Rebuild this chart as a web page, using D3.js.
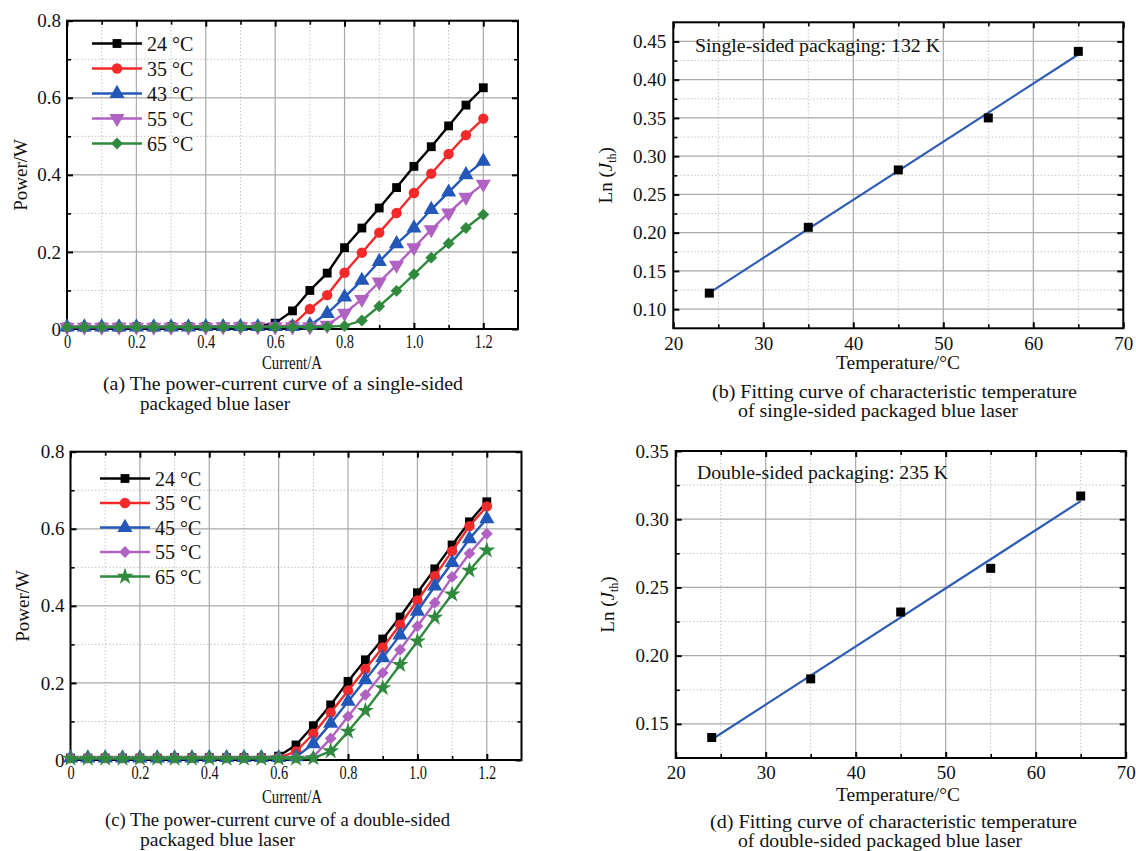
<!DOCTYPE html>
<html>
<head>
<meta charset="utf-8">
<script src="https://cdn.jsdelivr.net/npm/d3@7"></script>
<style>
  body { margin: 0; background: #fff; }
  svg { display: block; }
</style>
</head>
<body>
<svg id="chart" width="1136" height="851"></svg>
<script>
// power-current curves + ln(Jth) fits, single / double sided packaging

const current = [0, 0.05, 0.1, 0.15, 0.2, 0.25, 0.3, 0.35, 0.4, 0.45, 0.5, 0.55,
  0.6, 0.65, 0.7, 0.75, 0.8, 0.85, 0.9, 0.95, 1.0, 1.05, 1.1, 1.15, 1.2];

// (a) single-sided
const singleLabels = ['24 °C', '35 °C', '43 °C', '55 °C', '65 °C'];
const single24 = [0.005, 0.005, 0.005, 0.005, 0.006, 0.005, 0.006, 0.006, 0.006, 0.006, 0.007, 0.007,
  0.015, 0.047, 0.100, 0.145, 0.211, 0.262, 0.314, 0.367, 0.422, 0.473, 0.527, 0.581, 0.626];
const single35 = [0.005, 0.005, 0.005, 0.005, 0.005, 0.005, 0.005, 0.006, 0.006, 0.006, 0.006, 0.006,
  0.006, 0.010, 0.052, 0.088, 0.146, 0.198, 0.250, 0.301, 0.353, 0.403, 0.454, 0.503, 0.546];
const single43 = [0.005, 0.005, 0.005, 0.005, 0.005, 0.005, 0.005, 0.005, 0.006, 0.006, 0.006, 0.006,
  0.006, 0.006, 0.010, 0.040, 0.083, 0.126, 0.175, 0.221, 0.262, 0.310, 0.355, 0.400, 0.435];
const single55 = [0.005, 0.005, 0.005, 0.005, 0.005, 0.005, 0.005, 0.005, 0.005, 0.006, 0.006, 0.006,
  0.006, 0.006, 0.006, 0.010, 0.041, 0.077, 0.122, 0.166, 0.211, 0.258, 0.301, 0.342, 0.376];
const single65 = [0.005, 0.005, 0.005, 0.005, 0.005, 0.005, 0.005, 0.005, 0.005, 0.005, 0.005, 0.005,
  0.005, 0.005, 0.005, 0.006, 0.008, 0.022, 0.059, 0.099, 0.142, 0.185, 0.222, 0.262, 0.297];

// (c) double-sided
const doubleLabels = ['24 °C', '35 °C', '45 °C', '55 °C', '65 °C'];
const double24 = [0.005, 0.005, 0.005, 0.005, 0.005, 0.005, 0.006, 0.006, 0.006, 0.006, 0.006, 0.006,
  0.010, 0.039, 0.089, 0.143, 0.204, 0.260, 0.314, 0.371, 0.434, 0.496, 0.558, 0.618, 0.670];
const double35 = [0.005, 0.005, 0.005, 0.005, 0.005, 0.005, 0.005, 0.006, 0.006, 0.006, 0.006, 0.006,
  0.006, 0.022, 0.068, 0.123, 0.180, 0.236, 0.292, 0.351, 0.414, 0.477, 0.542, 0.607, 0.658];
const double45 = [0.005, 0.005, 0.005, 0.005, 0.005, 0.005, 0.005, 0.005, 0.006, 0.006, 0.006, 0.006,
  0.006, 0.008, 0.042, 0.095, 0.152, 0.208, 0.265, 0.324, 0.386, 0.451, 0.512, 0.574, 0.626];
const double55 = [0.006, 0.006, 0.006, 0.006, 0.006, 0.006, 0.006, 0.006, 0.006, 0.006, 0.006, 0.006,
  0.006, 0.006, 0.008, 0.056, 0.113, 0.169, 0.226, 0.286, 0.347, 0.408, 0.475, 0.536, 0.587];
const double65 = [0.004, 0.004, 0.004, 0.004, 0.004, 0.004, 0.004, 0.004, 0.004, 0.004, 0.004, 0.004,
  0.004, 0.004, 0.005, 0.023, 0.074, 0.128, 0.187, 0.247, 0.308, 0.370, 0.430, 0.492, 0.544];

// (b) / (d) ln(Jth) vs temperature
const temps = [24, 35, 45, 55, 65];
const lnSingle = [0.121, 0.207, 0.282, 0.350, 0.437];
const lnDouble = [0.140, 0.183, 0.232, 0.264, 0.317];

// ticks
const powerXMajor = [0, 0.2, 0.4, 0.6, 0.8, 1.0, 1.2];
const powerXMinor = [0.1, 0.3, 0.5, 0.7, 0.9, 1.1];
const powerYMajor = [0, 0.2, 0.4, 0.6, 0.8];
const powerYMinor = [0.1, 0.3, 0.5, 0.7];
const tempXMajor = [20, 30, 40, 50, 60, 70];
const tempXMinor = [25, 35, 45, 55, 65];
const lnYMajorB = [0.10, 0.15, 0.20, 0.25, 0.30, 0.35, 0.40, 0.45];
const lnYMinorB = [0.125, 0.175, 0.225, 0.275, 0.325, 0.375, 0.425];
const lnYMajorD = [0.15, 0.20, 0.25, 0.30, 0.35];
const lnYMinorD = [0.175, 0.225, 0.275, 0.325];

const COLORS = ['#000000', '#f42a2a', '#2458b8', '#b062c2', '#2f8a3e'];
const FIT_COLOR = '#2d5cb4';
const FONT = "'Liberation Serif','Times New Roman',serif";

const svg = d3.select('#chart');
svg.append('rect').attr('width', 1136).attr('height', 851).attr('fill', '#fff');

function markerPath(kind, size) {
  if (kind === 'circle') return { d: d3.symbol(d3.symbolCircle, size)(), rot: 0 };
  if (kind === 'triangle') return { d: d3.symbol(d3.symbolTriangle, size)(), rot: 0 };
  if (kind === 'triangleDown') return { d: d3.symbol(d3.symbolTriangle, size)(), rot: 180 };
  if (kind === 'diamond') return { d: d3.symbol(d3.symbolSquare, size)(), rot: 45 };
  if (kind === 'star') return { d: d3.symbol(d3.symbolStar, size)(), rot: 0 };
  return { d: d3.symbol(d3.symbolSquare, size)(), rot: 0 };
}

function drawFrame(g, x, y, xMaj, xMin, yMaj, yMin, xFmt, yFmt, opt) {
  const [x0, x1] = x.range();
  const [y0, y1] = y.range(); // y0 bottom, y1 top

  // grid
  const grid = g.append('g');
  grid.selectAll('.gmx').data(xMin).join('line')
    .attr('x1', d => x(d)).attr('x2', d => x(d)).attr('y1', y0).attr('y2', y1)
    .attr('stroke', '#c4c4c4').attr('stroke-width', 1).attr('stroke-dasharray', '1.5,2');
  grid.selectAll('.gmy').data(yMin).join('line')
    .attr('y1', d => y(d)).attr('y2', d => y(d)).attr('x1', x0).attr('x2', x1)
    .attr('stroke', '#c4c4c4').attr('stroke-width', 1).attr('stroke-dasharray', '1.5,2');
  grid.selectAll('.gMx').data(xMaj).join('line')
    .attr('x1', d => x(d)).attr('x2', d => x(d)).attr('y1', y0).attr('y2', y1)
    .attr('stroke', '#a9a9a9').attr('stroke-width', 1.2);
  grid.selectAll('.gMy').data(yMaj).join('line')
    .attr('y1', d => y(d)).attr('y2', d => y(d)).attr('x1', x0).attr('x2', x1)
    .attr('stroke', '#a9a9a9').attr('stroke-width', 1.2);

  // inward ticks on all four sides
  const ticks = g.append('g').attr('class', 'ticks');
  const sides = [
    [d3.axisBottom(x), `translate(0,${y0})`, xMaj, xMin],
    [d3.axisTop(x), `translate(0,${y1})`, xMaj, xMin],
    [d3.axisLeft(y), `translate(${x0},0)`, yMaj, yMin],
    [d3.axisRight(y), `translate(${x1},0)`, yMaj, yMin]
  ];
  sides.forEach(([ax, tr, maj, min]) => {
    ticks.append('g').attr('transform', tr)
      .call(ax.tickValues(maj).tickSize(-6).tickFormat(''))
      .call(s => s.select('.domain').remove())
      .call(s => s.selectAll('line').attr('stroke-width', 2));
    ticks.append('g').attr('transform', tr)
      .call(ax.tickValues(min).tickSize(-4).tickFormat(''))
      .call(s => s.select('.domain').remove())
      .call(s => s.selectAll('line').attr('stroke-width', 1.6));
  });

  g.append('rect')
    .attr('x', x0).attr('y', y1).attr('width', x1 - x0).attr('height', y0 - y1)
    .attr('fill', 'none').attr('stroke', '#000').attr('stroke-width', 2);

  // tick labels
  g.append('g').attr('transform', `translate(0,${y0})`)
    .call(d3.axisBottom(x).tickValues(xMaj).tickSize(0).tickPadding(opt.xPad).tickFormat(xFmt))
    .call(s => s.select('.domain').remove())
    .call(s => s.selectAll('text')
      .attr('font-family', FONT).attr('font-size', opt.xSize).attr('fill', '#111')
      .attr('transform', `scale(${opt.xSquash},1)`));
  g.append('g').attr('transform', `translate(${x0},0)`)
    .call(d3.axisLeft(y).tickValues(yMaj).tickSize(0).tickPadding(opt.yPad).tickFormat(yFmt))
    .call(s => s.select('.domain').remove())
    .call(s => s.selectAll('text')
      .attr('font-family', FONT).attr('font-size', 19).attr('fill', '#111'));
}

function addText(g, str, x, y, size, len, anchor) {
  const t = g.append('text').attr('x', x).attr('y', y)
    .attr('font-family', FONT).attr('font-size', size).attr('fill', '#111')
    .attr('text-anchor', anchor || 'start').text(str);
  if (len) t.attr('textLength', len).attr('lengthAdjust', 'spacingAndGlyphs');
  return t;
}

const powerFmt = d => d === 0 ? '0' : d3.format('.1f')(d);

function drawPower(cfg) {
  const g = svg.append('g');
  const x = d3.scaleLinear().domain([0, 1.3]).range([cfg.left, cfg.right]);
  const y = d3.scaleLinear().domain([0, 0.8]).range([cfg.bottom, cfg.top]);

  drawFrame(g, x, y, powerXMajor, powerXMinor, powerYMajor, powerYMinor, powerFmt, powerFmt,
    { xPad: 6, yPad: 6, xSize: 18, xSquash: 0.8 });

  const line = d3.line().x((d, i) => x(current[i])).y(d => y(d));
  cfg.series.forEach((vals, si) => {
    g.append('path').datum(vals).attr('d', line)
      .attr('fill', 'none').attr('stroke', COLORS[si]).attr('stroke-width', 2.4);
    const m = markerPath(cfg.markers[si], cfg.sizes[si]);
    g.append('g').selectAll('path').data(vals).join('path')
      .attr('d', m.d)
      .attr('transform', (d, i) => `translate(${x(current[i])},${y(d)}) rotate(${m.rot})`)
      .attr('fill', COLORS[si]);
  });

  // legend
  const lg = g.append('g');
  cfg.labels.forEach((lab, i) => {
    const yy = cfg.legY + i * cfg.legStep;
    lg.append('line').attr('x1', cfg.legX).attr('x2', cfg.legX + 50)
      .attr('y1', yy).attr('y2', yy).attr('stroke', COLORS[i]).attr('stroke-width', 2.6);
    const m = markerPath(cfg.markers[i], cfg.sizes[i]);
    lg.append('path').attr('d', m.d)
      .attr('transform', `translate(${cfg.legX + 25},${yy}) rotate(${m.rot})`)
      .attr('fill', COLORS[i]);
    addText(lg, lab, cfg.legX + 55, yy + 7, 20);
  });

  addText(g, 'Power/W', 0, 0, 19, null, 'middle')
    .attr('transform', `translate(${cfg.yLabX},${(cfg.top + cfg.bottom) / 2}) rotate(-90)`)
    .attr('dy', '0.35em');
  addText(g, 'Current/A', 292, cfg.titleY, 18, 60, 'middle');
  addText(g, cfg.cap1, cfg.capX1, cfg.capY1, 19, cfg.capW1);
  addText(g, 'packaged blue laser', 140, cfg.capY1 + 20, 19, cfg.capW2);
}

function drawFit(cfg) {
  const g = svg.append('g');
  const x = d3.scaleLinear().domain([20, 70]).range([cfg.left, cfg.right]);
  const y = d3.scaleLinear().domain(cfg.yDomain).range([cfg.bottom, cfg.top]);

  drawFrame(g, x, y, tempXMajor, tempXMinor, cfg.yMaj, cfg.yMin, d3.format('d'), d3.format('.2f'),
    { xPad: 8, yPad: 7, xSize: 19, xSquash: 1 });

  // least-squares fit of ln(Jth) against T
  const mx = d3.mean(temps), my = d3.mean(cfg.vals);
  const sxy = d3.sum(temps, (t, i) => (t - mx) * (cfg.vals[i] - my));
  const sxx = d3.sum(temps, t => (t - mx) * (t - mx));
  const k = sxy / sxx, b = my - k * mx;
  const ends = [temps[0], temps[temps.length - 1]];
  g.append('path').datum(ends)
    .attr('d', d3.line().x(t => x(t)).y(t => y(k * t + b)))
    .attr('stroke', FIT_COLOR).attr('stroke-width', 2.2).attr('fill', 'none');

  g.append('g').selectAll('rect').data(cfg.vals).join('rect')
    .attr('x', (d, i) => x(temps[i]) - 4.5).attr('y', d => y(d) - 4.5)
    .attr('width', 9).attr('height', 9).attr('fill', '#000');

  addText(g, cfg.note, cfg.noteX, cfg.noteY, 19, cfg.noteW);

  const yl = g.append('text')
    .attr('font-family', FONT).attr('font-size', 19).attr('fill', '#111')
    .attr('text-anchor', 'middle').attr('dy', '0.35em')
    .attr('transform', `translate(${cfg.yLabX},${(cfg.top + cfg.bottom) / 2}) rotate(-90)`);
  yl.append('tspan').text('Ln (');
  yl.append('tspan').attr('font-style', 'italic').text('J');
  yl.append('tspan').attr('font-size', 12).attr('dy', 4).text('th');
  yl.append('tspan').attr('dy', -4).text(')');

  addText(g, 'Temperature/°C', 898, cfg.titleY, 19, 124, 'middle');
  addText(g, cfg.cap1, cfg.capX1, cfg.capY1, 19, cfg.capW1);
  addText(g, cfg.cap2, 738, cfg.capY1 + 19, 19, cfg.capW2);
}

drawPower({
  left: 67, right: 518, top: 20.7, bottom: 329,
  series: [single24, single35, single43, single55, single65],
  labels: singleLabels,
  markers: ['square', 'circle', 'triangle', 'triangleDown', 'diamond'],
  sizes: [78, 85, 100, 100, 70],
  legX: 92, legY: 43.5, legStep: 25,
  yLabX: 20, titleY: 369,
  cap1: '(a) The power-current curve of a single-sided', capX1: 103, capY1: 390, capW1: 360, capW2: 150
});

drawPower({
  left: 70.5, right: 521.5, top: 451.7, bottom: 760,
  series: [double24, double35, double45, double55, double65],
  labels: doubleLabels,
  markers: ['square', 'circle', 'triangle', 'diamond', 'star'],
  sizes: [78, 85, 100, 70, 90],
  legX: 100, legY: 478.5, legStep: 24.5,
  yLabX: 22, titleY: 803,
  cap1: '(c) The power-current curve of a double-sided', capX1: 105, capY1: 826, capW1: 345, capW2: 155
});

drawFit({
  left: 673.3, right: 1123.3, top: 22.3, bottom: 328.3,
  yDomain: [0.075, 0.475], yMaj: lnYMajorB, yMin: lnYMinorB, vals: lnSingle,
  note: 'Single-sided packaging: 132 K', noteX: 695, noteY: 52, noteW: 245,
  yLabX: 605, titleY: 369,
  cap1: '(b) Fitting curve of characteristic temperature', capX1: 712, capY1: 398, capW1: 365,
  cap2: 'of single-sided packaged blue laser', capW2: 280
});

drawFit({
  left: 675.7, right: 1125.7, top: 451, bottom: 758,
  yDomain: [0.125, 0.35], yMaj: lnYMajorD, yMin: lnYMinorD, vals: lnDouble,
  note: 'Double-sided packaging: 235 K', noteX: 697, noteY: 479, noteW: 251,
  yLabX: 607, titleY: 801,
  cap1: '(d) Fitting curve of characteristic temperature', capX1: 710, capY1: 828, capW1: 367,
  cap2: 'of double-sided packaged blue laser', capW2: 284
});
</script>
</body>
</html>
